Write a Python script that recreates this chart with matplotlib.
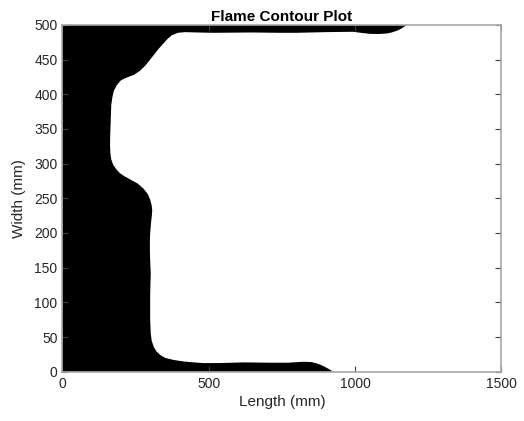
import numpy as np
import matplotlib.pyplot as plt

plt.rcParams['font.family'] = ['Liberation Sans', 'DejaVu Sans']

# flame front outline (length, width in mm), from the top edge down to the bottom edge
largo = [0, 1177, 1160, 1143, 1125, 1108, 1080, 1051, 1020, 993,
         900, 800, 744, 650, 515, 460, 419, 395, 374, 360,
         345, 330, 317, 300, 285, 266, 245, 220, 200, 186,
         176, 171, 167, 166, 165, 164, 163, 163, 164, 167,
         174, 184, 197, 215, 237, 258, 277, 292, 300, 305,
         307, 306, 304, 302, 300, 299, 299, 300, 301, 302,
         301, 300, 300, 300, 302, 305, 312, 322, 335, 351,
         380, 419, 480, 539, 620, 710, 770, 823, 850, 869,
         885, 897, 912, 926, 0]
ancho = [500, 500, 495, 491.5, 489, 487.5, 486.8, 487, 488.5, 490,
         489.5, 488.5, 488.5, 489, 488.5, 489, 489.5, 488.5, 485, 480,
         473, 466, 459, 450, 442, 434, 428, 424, 420, 413,
         405, 396, 384, 372, 360, 348, 334, 325, 315, 306,
         298, 292, 286, 281, 276, 271, 264, 256, 248, 240,
         233, 226, 219, 210, 200, 190, 175, 160, 150, 142,
         128, 110, 94, 75, 55, 45, 36, 29, 24, 20,
         17, 14.5, 12.5, 12.5, 13.5, 13, 13, 14.4, 14, 12,
         9.5, 7, 3.5, 0, 0]

fig = plt.figure(figsize=(5.24, 4.21), dpi=100)
ax = fig.add_axes([0.119, 0.117, 0.838, 0.824])

ax.fill(largo, ancho, color='black', lw=0)

ax.set_xlim(0, 1500)
ax.set_ylim(0, 500)
ax.set_xticks([0, 500, 1000, 1500])
ax.set_yticks(np.arange(0, 501, 50))

ax.set_title('Flame Contour Plot', fontsize=11, fontweight='bold', pad=3)
ax.set_xlabel('Length (mm)', fontsize=11, color='#262626', labelpad=3)
ax.set_ylabel('Width (mm)', fontsize=11, color='#262626', labelpad=6)

for lado in ax.spines.values():
    lado.set_color('#a8a8a8')
    lado.set_linewidth(1.2)
ax.tick_params(direction='in', length=4, width=0.8, color='#404040',
               labelsize=10, labelcolor='#262626', top=True, right=True)

fig.savefig('out.png', dpi=100)
